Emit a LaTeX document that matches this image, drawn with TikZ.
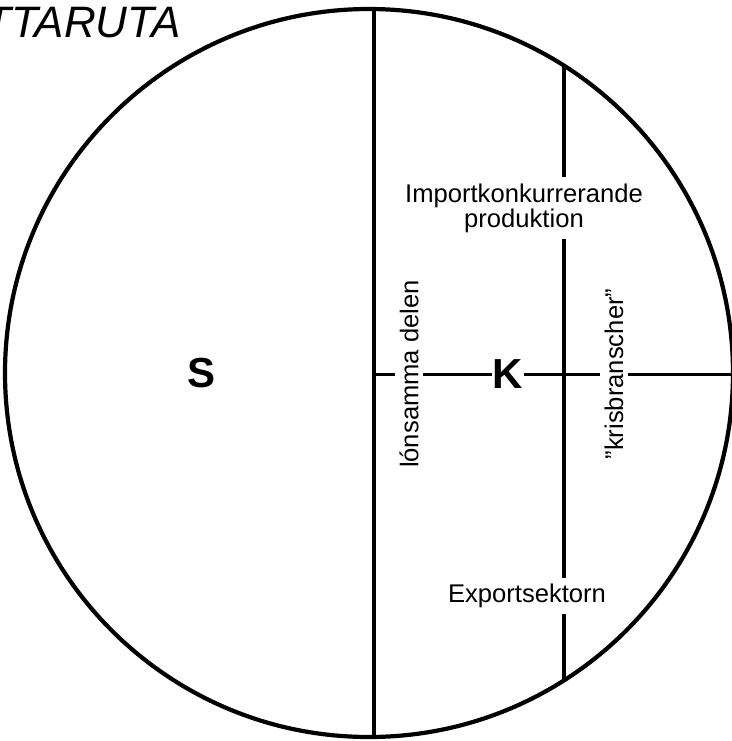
\documentclass[tikz,border=0pt]{standalone}
\usepackage{fontspec}
\setmainfont{Liberation Sans}
\usetikzlibrary{positioning}
\tikzset{
  rim/.style      = {line width=2.1pt, black},
  divline/.style  = {line width=1.8pt, black},
  midline/.style  = {line width=1.5pt, black},
  sector/.style   = {font=\fontsize{21}{24}\selectfont\bfseries, inner sep=0pt},
  lbl/.style      = {font=\fontsize{12.8}{12.5}\selectfont, inner sep=3pt, align=center},
  vlbl/.style     = {lbl, rotate=90, inner sep=2.2pt},
  ttl/.style      = {font=\fontsize{22}{24}\selectfont\itshape, inner sep=0pt, anchor=base east},
}

\begin{document}
\begin{tikzpicture}[x=0.5pt, y=-0.5pt]
  \useasboundingbox (0,0) rectangle (732,741);
  \node[ttl] (title) at (181,37) {TTARUTA};

  \draw[rim] (369,373) circle [radius=364];

  % end points on the rim
  \coordinate (v1top) at (374,9);
  \coordinate (v1bot) at (374,737);
  \coordinate (v2top) at (564,66);
  \coordinate (v2bot) at (564,680);
  \coordinate (hl) at (374,374);
  \coordinate (hr) at (732,374);

  \node[sector] (S) at (202,373) {S};
  \node[sector] (K) at (508,374) {K};
  \node[vlbl] (lon) at (409,374) {lónsamma delen};
  \node[vlbl] (kris) at (614,374) {''krisbranscher''};
  \node[lbl] (imp) at (524,208) {Importkonkurrerande\\produktion};
  \node[lbl] (exp) at (527,596) {Exportsektorn};

  \draw[divline] (v1top) -- (v1bot);
  \draw[divline] (v2top) -- (v2top |- imp.north);
  \draw[divline] (v2top |- imp.south) -- (v2top |- exp.north);
  \draw[divline] (v2top |- exp.south) -- (v2bot);
  \draw[midline] (hl) -- (lon) -- (K) -- (kris) -- (hr);
\end{tikzpicture}
\end{document}
